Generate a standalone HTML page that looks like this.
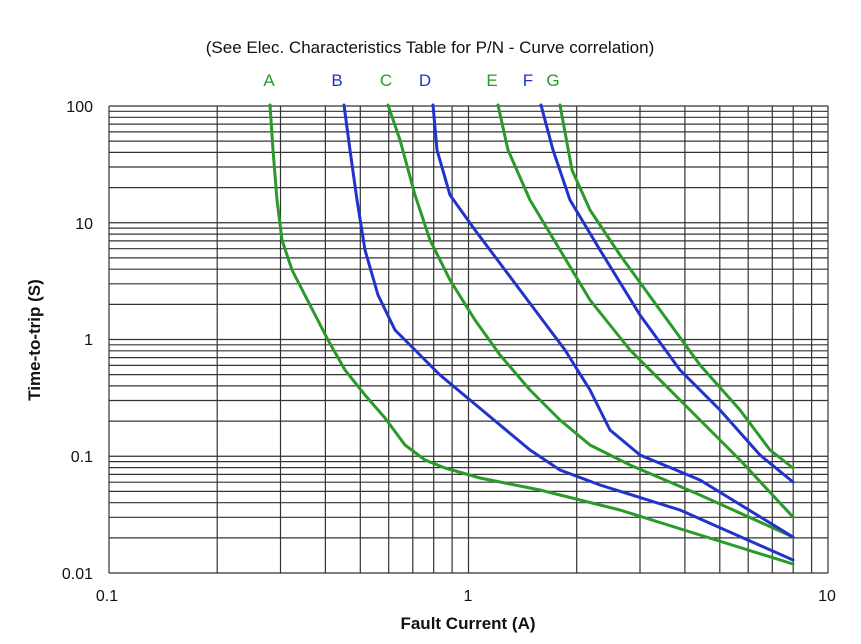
<!DOCTYPE html>
<html><head><meta charset="utf-8"><style>body{margin:0;background:#fff}</style></head><body>
<svg width="861" height="639" xmlns="http://www.w3.org/2000/svg" font-family="Liberation Sans, sans-serif">
<rect width="861" height="639" fill="#fff"/>
<path stroke="#333" stroke-width="1.2" fill="none" d="
M109 106V573 M217.2 106V573 M280.5 106V573 M325.4 106V573 M360.3 106V573 M388.7 106V573 M412.8 106V573 M433.7 106V573 M452.1 106V573 M468.5 106V573
M576.7 106V573 M640 106V573 M684.9 106V573 M719.8 106V573 M748.2 106V573 M772.3 106V573 M793.2 106V573 M811.6 106V573 M828 106V573
M109 573H828 M109 537.9H828 M109 517.3H828 M109 502.7H828 M109 491.4H828 M109 482.2H828 M109 474.4H828 M109 467.6H828 M109 461.6H828 M109 456.25H828
M109 421.1H828 M109 400.5H828 M109 385.9H828 M109 374.6H828 M109 365.4H828 M109 357.6H828 M109 350.8H828 M109 344.8H828 M109 339.5H828
M109 304.4H828 M109 283.8H828 M109 269.2H828 M109 257.9H828 M109 248.7H828 M109 240.9H828 M109 234.1H828 M109 228.1H828 M109 222.75H828
M109 187.6H828 M109 167H828 M109 152.4H828 M109 141.1H828 M109 131.9H828 M109 124.1H828 M109 117.3H828 M109 111.3H828 M109 106H828"/>
<text x="430" y="53" font-size="17" text-anchor="middle" fill="#111">(See Elec. Characteristics Table for P/N - Curve correlation)</text>
<g font-size="17" text-anchor="middle">
<text x="269" y="86" fill="#2a9a2a">A</text>
<text x="337" y="86" fill="#2233cc">B</text>
<text x="386" y="86" fill="#2a9a2a">C</text>
<text x="425" y="86" fill="#2233cc">D</text>
<text x="492" y="86" fill="#2a9a2a">E</text>
<text x="528" y="86" fill="#2233cc">F</text>
<text x="553" y="86" fill="#2a9a2a">G</text>
</g>
<g font-size="16" text-anchor="end" fill="#111">
<text x="93" y="112">100</text>
<text x="93" y="229">10</text>
<text x="93" y="345">1</text>
<text x="93" y="462">0.1</text>
<text x="93" y="579">0.01</text>
</g>
<g font-size="16" text-anchor="middle" fill="#111">
<text x="107" y="601">0.1</text>
<text x="468" y="601">1</text>
<text x="827" y="601">10</text>
</g>
<text x="468" y="629" font-size="17" font-weight="bold" text-anchor="middle" fill="#111">Fault Current (A)</text>
<text transform="translate(40,340) rotate(-90)" font-size="17" font-weight="bold" text-anchor="middle" fill="#111">Time-to-trip (S)</text>
<g fill="none" stroke-width="3" stroke-linejoin="round" stroke-linecap="round">
<polyline stroke="#2a9a2a" points="270,105 273,150 277,200 282,240 292,270 310,305 328,340 345,370 365,395 385,418 405,445 425,460 445,468 480,478 540,490 620,510 700,535 793,564"/>
<polyline stroke="#2233cc" points="344,105 350,150 357,200 365,250 378,295 395,330 415,350 440,375 470,400 500,425 530,450 560,470 600,485 680,510 793,560"/>
<polyline stroke="#2a9a2a" points="388,105 400,140 415,195 430,240 450,280 475,320 500,355 530,390 560,420 590,445 630,465 700,495 793,537"/>
<polyline stroke="#2233cc" points="433,105 437,150 450,195 475,230 505,270 535,310 565,350 590,390 610,430 640,455 700,480 793,537"/>
<polyline stroke="#2a9a2a" points="498,105 508,150 530,200 560,250 590,300 630,350 680,400 740,460 793,517"/>
<polyline stroke="#2233cc" points="541,105 553,150 570,200 600,250 640,315 680,370 720,410 760,455 793,482"/>
<polyline stroke="#2a9a2a" points="560,105 572,170 590,210 620,255 660,310 700,365 740,410 770,450 793,468"/>
</g>
</svg>
</body></html>
